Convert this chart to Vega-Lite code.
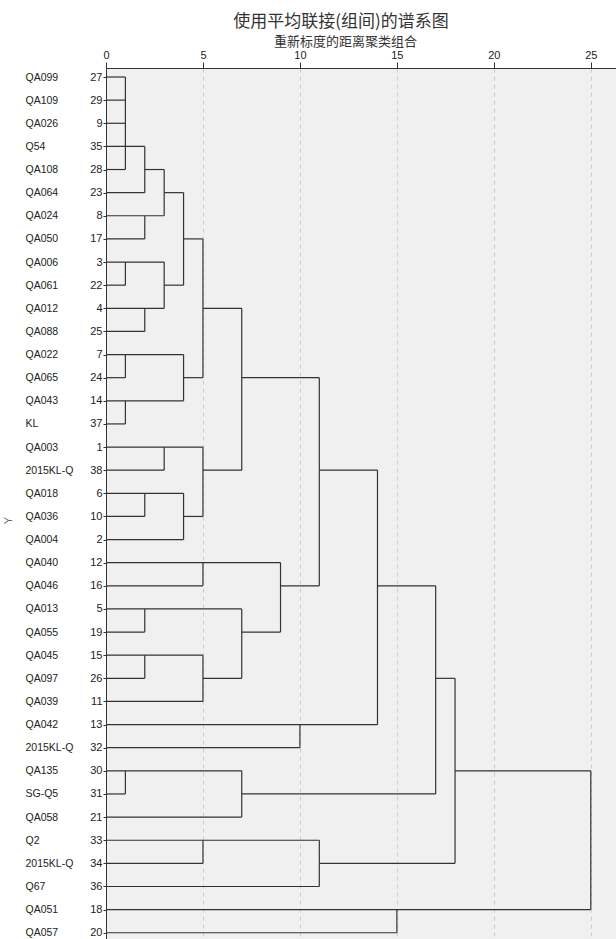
{
  "$schema": "https://vega.github.io/schema/vega-lite/v6.json",
  "description": "Dendrogram using average linkage (between groups)",
  "width": 510,
  "height": 871,
  "autosize": "none",
  "padding": {"left": 106, "top": 68, "right": 0, "bottom": 0},
  "background": "white",
  "title": {
    "text": "使用平均联接(组间)的谱系图",
    "font": "Noto Sans CJK SC",
    "fontSize": 17,
    "fontWeight": "normal",
    "color": "#333333",
    "anchor": "middle",
    "dx": -20,
    "offset": 4
  },
  "datasets": {
    "leaves": [
      {"case": 27, "name": "QA099"}, {"case": 29, "name": "QA109"}, {"case": 9, "name": "QA026"},
      {"case": 35, "name": "Q54"}, {"case": 28, "name": "QA108"}, {"case": 23, "name": "QA064"},
      {"case": 8, "name": "QA024"}, {"case": 17, "name": "QA050"}, {"case": 3, "name": "QA006"},
      {"case": 22, "name": "QA061"}, {"case": 4, "name": "QA012"}, {"case": 25, "name": "QA088"},
      {"case": 7, "name": "QA022"}, {"case": 24, "name": "QA065"}, {"case": 14, "name": "QA043"},
      {"case": 37, "name": "KL"}, {"case": 1, "name": "QA003"}, {"case": 38, "name": "2015KL-Q"},
      {"case": 6, "name": "QA018"}, {"case": 10, "name": "QA036"}, {"case": 2, "name": "QA004"},
      {"case": 12, "name": "QA040"}, {"case": 16, "name": "QA046"}, {"case": 5, "name": "QA013"},
      {"case": 19, "name": "QA055"}, {"case": 15, "name": "QA045"}, {"case": 26, "name": "QA097"},
      {"case": 11, "name": "QA039"}, {"case": 13, "name": "QA042"}, {"case": 32, "name": "2015KL-Q"},
      {"case": 30, "name": "QA135"}, {"case": 31, "name": "SG-Q5"}, {"case": 21, "name": "QA058"},
      {"case": 33, "name": "Q2"}, {"case": 34, "name": "2015KL-Q"}, {"case": 36, "name": "Q67"},
      {"case": 18, "name": "QA051"}, {"case": 20, "name": "QA057"}
    ],
    "segments": [
      {"x": 0, "x2": 1, "y": 27, "y2": 27},
      {"x": 0, "x2": 1, "y": 29, "y2": 29},
      {"x": 0, "x2": 1, "y": 9, "y2": 9},
      {"x": 0, "x2": 2, "y": 35, "y2": 35},
      {"x": 0, "x2": 1, "y": 28, "y2": 28},
      {"x": 2, "x2": 3, "y": 28, "y2": 28},
      {"x": 0, "x2": 2, "y": 23, "y2": 23},
      {"x": 3, "x2": 4, "y": 23, "y2": 23},
      {"x": 0, "x2": 3, "y": 8, "y2": 8},
      {"x": 0, "x2": 2, "y": 17, "y2": 17},
      {"x": 4, "x2": 5, "y": 17, "y2": 17},
      {"x": 0, "x2": 3, "y": 3, "y2": 3},
      {"x": 0, "x2": 1, "y": 22, "y2": 22},
      {"x": 3, "x2": 4, "y": 22, "y2": 22},
      {"x": 0, "x2": 3, "y": 4, "y2": 4},
      {"x": 5, "x2": 7, "y": 4, "y2": 4},
      {"x": 0, "x2": 2, "y": 25, "y2": 25},
      {"x": 0, "x2": 4, "y": 7, "y2": 7},
      {"x": 0, "x2": 1, "y": 24, "y2": 24},
      {"x": 4, "x2": 5, "y": 24, "y2": 24},
      {"x": 7, "x2": 11, "y": 24, "y2": 24},
      {"x": 0, "x2": 4, "y": 14, "y2": 14},
      {"x": 0, "x2": 1, "y": 37, "y2": 37},
      {"x": 0, "x2": 5, "y": 1, "y2": 1},
      {"x": 0, "x2": 3, "y": 38, "y2": 38},
      {"x": 5, "x2": 7, "y": 38, "y2": 38},
      {"x": 11, "x2": 14, "y": 38, "y2": 38},
      {"x": 0, "x2": 4, "y": 6, "y2": 6},
      {"x": 0, "x2": 2, "y": 10, "y2": 10},
      {"x": 4, "x2": 5, "y": 10, "y2": 10},
      {"x": 0, "x2": 4, "y": 2, "y2": 2},
      {"x": 0, "x2": 9, "y": 12, "y2": 12},
      {"x": 0, "x2": 5, "y": 16, "y2": 16},
      {"x": 9, "x2": 11, "y": 16, "y2": 16},
      {"x": 14, "x2": 17, "y": 16, "y2": 16},
      {"x": 0, "x2": 7, "y": 5, "y2": 5},
      {"x": 0, "x2": 2, "y": 19, "y2": 19},
      {"x": 7, "x2": 9, "y": 19, "y2": 19},
      {"x": 0, "x2": 5, "y": 15, "y2": 15},
      {"x": 0, "x2": 2, "y": 26, "y2": 26},
      {"x": 5, "x2": 7, "y": 26, "y2": 26},
      {"x": 17, "x2": 18, "y": 26, "y2": 26},
      {"x": 0, "x2": 5, "y": 11, "y2": 11},
      {"x": 0, "x2": 14, "y": 13, "y2": 13},
      {"x": 0, "x2": 10, "y": 32, "y2": 32},
      {"x": 0, "x2": 7, "y": 30, "y2": 30},
      {"x": 18, "x2": 25, "y": 30, "y2": 30},
      {"x": 0, "x2": 1, "y": 31, "y2": 31},
      {"x": 7, "x2": 17, "y": 31, "y2": 31},
      {"x": 0, "x2": 7, "y": 21, "y2": 21},
      {"x": 0, "x2": 11, "y": 33, "y2": 33},
      {"x": 0, "x2": 5, "y": 34, "y2": 34},
      {"x": 11, "x2": 18, "y": 34, "y2": 34},
      {"x": 0, "x2": 11, "y": 36, "y2": 36},
      {"x": 0, "x2": 25, "y": 18, "y2": 18},
      {"x": 0, "x2": 15, "y": 20, "y2": 20},
      {"x": 1, "x2": 1, "y": 27, "y2": 28},
      {"x": 2, "x2": 2, "y": 35, "y2": 23},
      {"x": 2, "x2": 2, "y": 8, "y2": 17},
      {"x": 3, "x2": 3, "y": 28, "y2": 8},
      {"x": 1, "x2": 1, "y": 3, "y2": 22},
      {"x": 2, "x2": 2, "y": 4, "y2": 25},
      {"x": 3, "x2": 3, "y": 3, "y2": 4},
      {"x": 4, "x2": 4, "y": 23, "y2": 22},
      {"x": 1, "x2": 1, "y": 7, "y2": 24},
      {"x": 1, "x2": 1, "y": 14, "y2": 37},
      {"x": 4, "x2": 4, "y": 7, "y2": 14},
      {"x": 5, "x2": 5, "y": 17, "y2": 24},
      {"x": 3, "x2": 3, "y": 1, "y2": 38},
      {"x": 2, "x2": 2, "y": 6, "y2": 10},
      {"x": 4, "x2": 4, "y": 6, "y2": 2},
      {"x": 5, "x2": 5, "y": 1, "y2": 10},
      {"x": 7, "x2": 7, "y": 4, "y2": 38},
      {"x": 5, "x2": 5, "y": 12, "y2": 16},
      {"x": 2, "x2": 2, "y": 5, "y2": 19},
      {"x": 2, "x2": 2, "y": 15, "y2": 26},
      {"x": 5, "x2": 5, "y": 15, "y2": 11},
      {"x": 7, "x2": 7, "y": 5, "y2": 26},
      {"x": 9, "x2": 9, "y": 12, "y2": 19},
      {"x": 11, "x2": 11, "y": 24, "y2": 16},
      {"x": 10, "x2": 10, "y": 13, "y2": 32},
      {"x": 14, "x2": 14, "y": 38, "y2": 13},
      {"x": 1, "x2": 1, "y": 30, "y2": 31},
      {"x": 7, "x2": 7, "y": 30, "y2": 21},
      {"x": 17, "x2": 17, "y": 16, "y2": 31},
      {"x": 5, "x2": 5, "y": 33, "y2": 34},
      {"x": 11, "x2": 11, "y": 33, "y2": 36},
      {"x": 18, "x2": 18, "y": 26, "y2": 34},
      {"x": 15, "x2": 15, "y": 18, "y2": 20},
      {"x": 25, "x2": 25, "y": 30, "y2": 18}
    ]
  },
  "layer": [
    {
      "data": {"name": "segments"},
      "mark": {"type": "rule", "stroke": "#333333", "strokeWidth": 1.2},
      "encoding": {
        "x": {
          "field": "x",
          "type": "quantitative",
          "scale": {"domain": [0, 26.3], "nice": false},
          "axis": {
            "orient": "top",
            "values": [0, 5, 10, 15, 20, 25],
            "grid": true,
            "gridDash": [4, 4],
            "gridColor": "#cccccc",
            "domainColor": "#333333",
            "tickColor": "#333333",
            "tickSize": 6,
            "labelPadding": 2,
            "labelFont": "Liberation Sans",
            "labelFontSize": 11,
            "labelColor": "#222222",
            "labelFlush": false,
            "title": "重新标度的距离聚类组合",
            "titleFont": "Noto Sans CJK SC",
            "titleFontSize": 13,
            "titleFontWeight": "normal",
            "titleColor": "#333333",
            "titleX": 239,
            "titleY": -23,
            "titleBaseline": "alphabetic"
          }
        },
        "x2": {"field": "x2"},
        "y": {
          "field": "y",
          "type": "ordinal",
          "scale": {
            "type": "point",
            "domain": [27, 29, 9, 35, 28, 23, 8, 17, 3, 22, 4, 25, 7, 24, 14, 37, 1, 38, 6, 10, 2, 12, 16, 5, 19, 15, 26, 11, 13, 32, 30, 31, 21, 33, 34, 36, 18, 20],
            "padding": 0.33,
            "align": 0.59
          },
          "axis": {
            "orient": "left",
            "grid": false,
            "domainColor": "#333333",
            "tickColor": "#333333",
            "tickSize": 3,
            "labelPadding": 1,
            "labelFont": "Liberation Sans",
            "labelFontSize": 11,
            "labelColor": "#222222",
            "labelAngle": 0,
            "title": "Y",
            "titleFont": "Liberation Sans",
            "titleFontSize": 11,
            "titleFontWeight": "normal",
            "titleColor": "#666666",
            "titleX": -98,
            "titleY": 452,
            "titleBaseline": "middle"
          }
        },
        "y2": {"field": "y2"}
      }
    },
    {
      "data": {"name": "leaves"},
      "mark": {"type": "point", "opacity": 0},
      "encoding": {
        "y": {
          "field": "case",
          "type": "ordinal",
          "axis": {
            "orient": "left",
            "grid": false,
            "domain": false,
            "ticks": false,
            "labelPadding": 81,
            "labelAlign": "left",
            "labelFont": "Liberation Sans",
            "labelFontSize": 10.5,
            "labelColor": "#222222",
            "labelAngle": 0,
            "labelExpr": "['QA003','QA004','QA006','QA012','QA013','QA018','QA022','QA024','QA026','QA036','QA039','QA040','QA042','QA043','QA045','QA046','QA050','QA051','QA055','QA057','QA058','QA061','QA064','QA065','QA088','QA097','QA099','QA108','QA109','QA135','SG-Q5','2015KL-Q','Q2','2015KL-Q','Q54','Q67','KL','2015KL-Q'][datum.value - 1]",
            "title": null
          }
        }
      }
    }
  ],
  "resolve": {"axis": {"y": "independent"}},
  "config": {
    "view": {"fill": "#f0f0f0", "stroke": null}
  }
}
